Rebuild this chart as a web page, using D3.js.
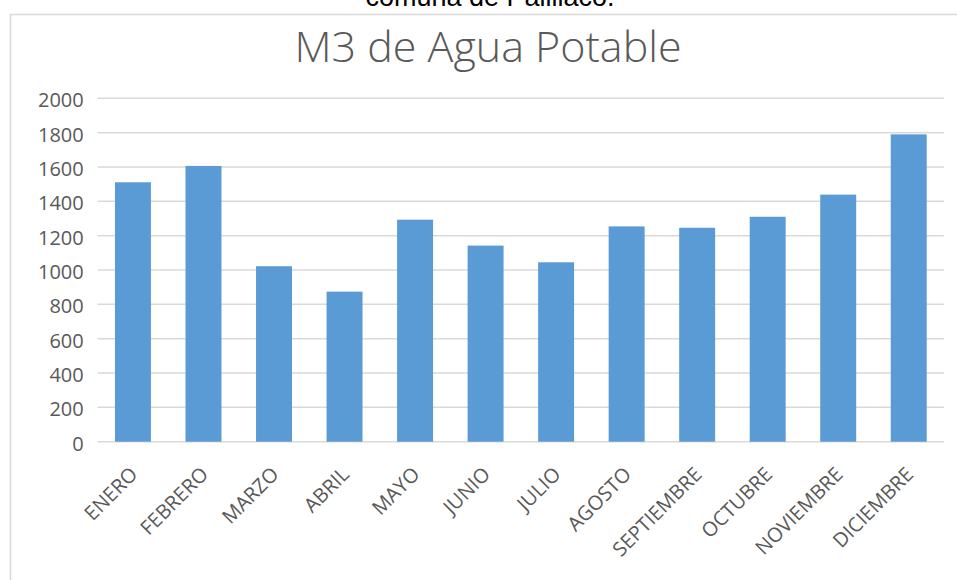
<!DOCTYPE html>
<html>
<head>
<meta charset="utf-8">
<script src="https://cdn.jsdelivr.net/npm/d3@7"></script>
<style>
  body { margin: 0; background: #fff; }
  svg { display: block; }
</style>
</head>
<body>
<svg id="chart"></svg>
<script>
let months = ["ENERO", "FEBRERO", "MARZO", "ABRIL", "MAYO", "JUNIO", "JULIO",
  "AGOSTO", "SEPTIEMBRE", "OCTUBRE", "NOVIEMBRE", "DICIEMBRE"];
let m3 = [1511, 1606, 1022, 874, 1293, 1142, 1045, 1254, 1246, 1310, 1439, 1790];
let yTicks = [0, 200, 400, 600, 800, 1000, 1200, 1400, 1600, 1800, 2000];

let width = 957;
let height = 580;
let margin = { top: 98.3, right: 13, bottom: 138.3, left: 97.7 };

let svg = d3.select("#chart").attr("width", width).attr("height", height);

// caption from the document, cut off at the top of the screenshot
svg
  .append("text")
  .attr("x", 490)
  .attr("y", 6)
  .attr("text-anchor", "middle")
  .style("font-family", "Liberation Sans, Arial, sans-serif")
  .style("font-size", "27px")
  .style("fill", "#000")
  .text("comuna de Palillaco.");

// chart area border
svg
  .append("rect")
  .attr("x", 10.5)
  .attr("y", 14.5)
  .attr("width", 960)
  .attr("height", 600)
  .style("fill", "none")
  .style("stroke", "#d9d9d9")
  .style("stroke-width", 1.5);

svg
  .append("text")
  .attr("x", 488)
  .attr("y", 62)
  .attr("text-anchor", "middle")
  .style("font-family", "Open Sans, sans-serif")
  .style("font-weight", 300)
  .style("font-size", "43px")
  .style("fill", "#595959")
  .text("M3 de Agua Potable");

let x = d3
  .scaleBand()
  .domain(months)
  .range([margin.left, width - margin.right])
  .paddingInner(0.49)
  .paddingOuter(0.245);

let y = d3
  .scaleLinear()
  .domain([0, 2000])
  .range([height - margin.bottom, margin.top]);

// gridlines
svg
  .append("g")
  .selectAll(".grid")
  .data(yTicks)
  .join("line")
  .attr("class", "grid")
  .attr("x1", margin.left)
  .attr("x2", width - margin.right)
  .attr("y1", (d) => y(d))
  .attr("y2", (d) => y(d))
  .style("stroke", "#d9d9d9")
  .style("stroke-width", 1.5);

let yAxis = svg
  .append("g")
  .attr("transform", `translate(${margin.left - 14},0)`)
  .call(
    d3.axisLeft(y).tickValues(yTicks).tickFormat(d3.format("d")).tickSize(0).tickPadding(0)
  );
yAxis.select(".domain").remove();
yAxis
  .selectAll("text")
  .attr("dy", "0.42em")
  .style("font-family", "Open Sans, sans-serif")
  .style("font-size", "20px")
  .style("fill", "#595959");

svg
  .append("g")
  .selectAll(".bar")
  .data(m3)
  .join("rect")
  .attr("class", "bar")
  .attr("x", (d, i) => x(months[i]))
  .attr("width", x.bandwidth())
  .attr("y", (d) => y(d))
  .attr("height", (d) => y(0) - y(d))
  .style("fill", "#5b9bd5");

let xAxis = svg
  .append("g")
  .attr("transform", `translate(0,${height - margin.bottom})`)
  .call(d3.axisBottom(x).tickSize(0).tickPadding(0));
xAxis.select(".domain").remove();
xAxis
  .selectAll("text")
  .attr("text-anchor", "end")
  .attr("transform", "translate(-4,24) rotate(-45)")
  .attr("dy", "0.7em")
  .style("font-family", "Open Sans, sans-serif")
  .style("font-size", "20px")
  .style("fill", "#595959");
</script>
</body>
</html>
